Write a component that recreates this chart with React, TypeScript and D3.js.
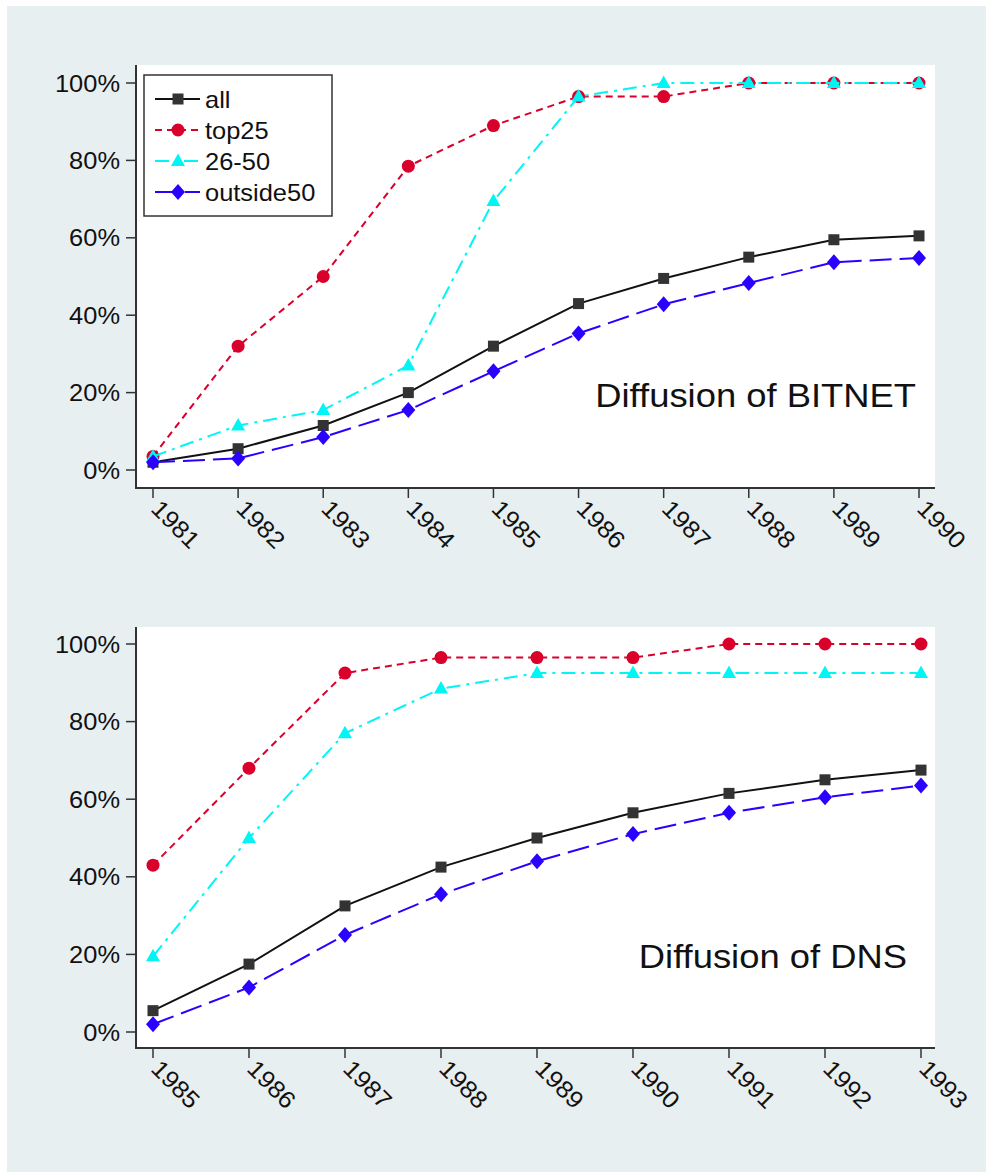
import * as d3 from "d3";
import React from "react";

// BITNET panel
const bitnetYears = [1981, 1982, 1983, 1984, 1985, 1986, 1987, 1988, 1989, 1990];
const bitnetAll = [2, 5.5, 11.5, 20, 32, 43, 49.5, 55, 59.5, 60.5];
const bitnetTop25 = [3.5, 32, 50, 78.5, 89, 96.5, 96.5, 100, 100, 100];
const bitnet2650 = [3.5, 11.5, 15.5, 27, 69.5, 96.5, 100, 100, 100, 100];
const bitnetOutside50 = [2, 3, 8.5, 15.5, 25.5, 35.3, 42.8, 48.3, 53.7, 54.8];

// DNS panel
const dnsYears = [1985, 1986, 1987, 1988, 1989, 1990, 1991, 1992, 1993];
const dnsAll = [5.5, 17.5, 32.5, 42.5, 50, 56.5, 61.5, 65, 67.5];
const dnsTop25 = [43, 68, 92.5, 96.5, 96.5, 96.5, 100, 100, 100];
const dns2650 = [19.5, 50, 77, 88.5, 92.5, 92.5, 92.5, 92.5, 92.5];
const dnsOutside50 = [2, 11.5, 25, 35.5, 44, 51, 56.5, 60.5, 63.5];

const yTicks = [0, 20, 40, 60, 80, 100];
const seriesNames = ["all", "top25", "26-50", "outside50"];

const styles: Record<string, { color: string; fill: string; dash: string; shape: string }> = {
  all: { color: "#111111", fill: "#333333", dash: "", shape: "square" },
  top25: { color: "#d9002c", fill: "#d9002c", dash: "7,5", shape: "circle" },
  "26-50": { color: "#00f5f5", fill: "#00f5f5", dash: "14,6,3,6", shape: "triangle" },
  outside50: { color: "#2b00ff", fill: "#2b00ff", dash: "22,8", shape: "diamond" },
};

const FONT = "'Liberation Sans', Arial, Helvetica, sans-serif";
const STRETCH = 1.06; // glyphs in the original are a bit wider than Arial

const Marker = ({ shape, x, y, fill }: { shape: string; x: number; y: number; fill: string }) => {
  if (shape === "square") return <rect x={x - 5.5} y={y - 5.5} width={11} height={11} fill={fill} />;
  if (shape === "circle") return <circle cx={x} cy={y} r={6.5} fill={fill} />;
  if (shape === "triangle")
    return <path d={`M${x},${y - 7.5}L${x + 7},${y + 5}L${x - 7},${y + 5}Z`} fill={fill} />;
  return <path d={`M${x},${y - 8}L${x + 7},${y}L${x},${y + 8}L${x - 7},${y}Z`} fill={fill} />;
};

type PanelProps = {
  top: number;
  bottom: number;
  y0: number;
  y100: number;
  xFirst: number;
  xLast: number;
  years: number[];
  series: number[][];
  title: string;
  titleY: number;
  titleX: number;
  legend: boolean;
};

const Panel = ({ top, bottom, y0, y100, xFirst, xLast, years, series, title, titleY, titleX, legend }: PanelProps) => {
  const left = 136;
  const right = 935;
  const x = d3.scaleLinear().domain([years[0], years[years.length - 1]]).range([xFirst, xLast]);
  const y = d3.scaleLinear().domain([0, 100]).range([y0, y100]);
  const line = d3
    .line<number>()
    .x((_, i) => x(years[i]))
    .y((d) => y(d));

  return (
    <g>
      <rect x={left} y={top} width={right - left} height={bottom - top} fill="#ffffff" />
      {series.map((vals, si) => {
        const s = styles[seriesNames[si]];
        return (
          <g key={seriesNames[si]}>
            <path d={line(vals) || ""} fill="none" stroke={s.color} strokeWidth={2} strokeDasharray={s.dash} />
            {vals.map((v, i) => (
              <Marker key={i} shape={s.shape} x={x(years[i])} y={y(v)} fill={s.fill} />
            ))}
          </g>
        );
      })}
      {/* axes */}
      <line x1={left} x2={left} y1={top} y2={bottom} stroke="#333" strokeWidth={2} />
      <line x1={left - 1} x2={right} y1={bottom} y2={bottom} stroke="#333" strokeWidth={2} />
      {yTicks.map((t) => (
        <g key={t}>
          <line x1={left - 10} x2={left} y1={y(t)} y2={y(t)} stroke="#333" strokeWidth={1.5} />
          <text
            transform={`translate(${left - 16}, ${y(t)}) scale(${STRETCH},1)`}
            dy="0.36em"
            textAnchor="end"
            fontSize={24}
            fontFamily={FONT}
            fill="#111"
          >
            {t}%
          </text>
        </g>
      ))}
      {years.map((yr) => (
        <g key={yr}>
          <line x1={x(yr)} x2={x(yr)} y1={bottom} y2={bottom + 10} stroke="#333" strokeWidth={1.5} />
          <text
            transform={`translate(${x(yr) + 9}, ${bottom + 10}) rotate(45) scale(${STRETCH},1)`}
            dy="0.72em"
            fontSize={24}
            fontFamily={FONT}
            fill="#111"
          >
            {yr}
          </text>
        </g>
      ))}
      <text
        transform={`translate(${titleX}, ${titleY}) scale(1.07,1)`}
        textAnchor="end"
        fontSize={34}
        fontFamily={FONT}
        fill="#111"
      >
        {title}
      </text>
      {legend && (
        <g>
          <rect x={144} y={75} width={188} height={141} fill="#ffffff" stroke="#333" strokeWidth={1.5} />
          {seriesNames.map((name, i) => {
            const s = styles[name];
            const ly = 99 + i * 31;
            return (
              <g key={name}>
                <line x1={155} x2={200} y1={ly} y2={ly} stroke={s.color} strokeWidth={2} strokeDasharray={s.dash} />
                <Marker shape={s.shape} x={178} y={ly} fill={s.fill} />
                <text
                  transform={`translate(205, ${ly}) scale(${STRETCH},1)`}
                  dy="0.36em"
                  fontSize={24}
                  fontFamily={FONT}
                  fill="#111"
                >
                  {name}
                </text>
              </g>
            );
          })}
        </g>
      )}
    </g>
  );
};

export default function App() {
  return (
    <svg width={992} height={1172} style={{ position: "absolute", left: 0, top: 0 }}>
      <rect x={0} y={0} width={992} height={1172} fill="#ffffff" />
      <rect x={7} y={6} width={979} height={1166} fill="#e7eff1" />
      <Panel
        top={65}
        bottom={488}
        y0={470}
        y100={83}
        xFirst={153}
        xLast={919}
        years={bitnetYears}
        series={[bitnetAll, bitnetTop25, bitnet2650, bitnetOutside50]}
        title="Diffusion of BITNET"
        titleX={916}
        titleY={407}
        legend={true}
      />
      <Panel
        top={627}
        bottom={1048}
        y0={1032}
        y100={644}
        xFirst={153}
        xLast={921}
        years={dnsYears}
        series={[dnsAll, dnsTop25, dns2650, dnsOutside50]}
        title="Diffusion of DNS"
        titleX={907}
        titleY={968}
        legend={false}
      />
    </svg>
  );
}
